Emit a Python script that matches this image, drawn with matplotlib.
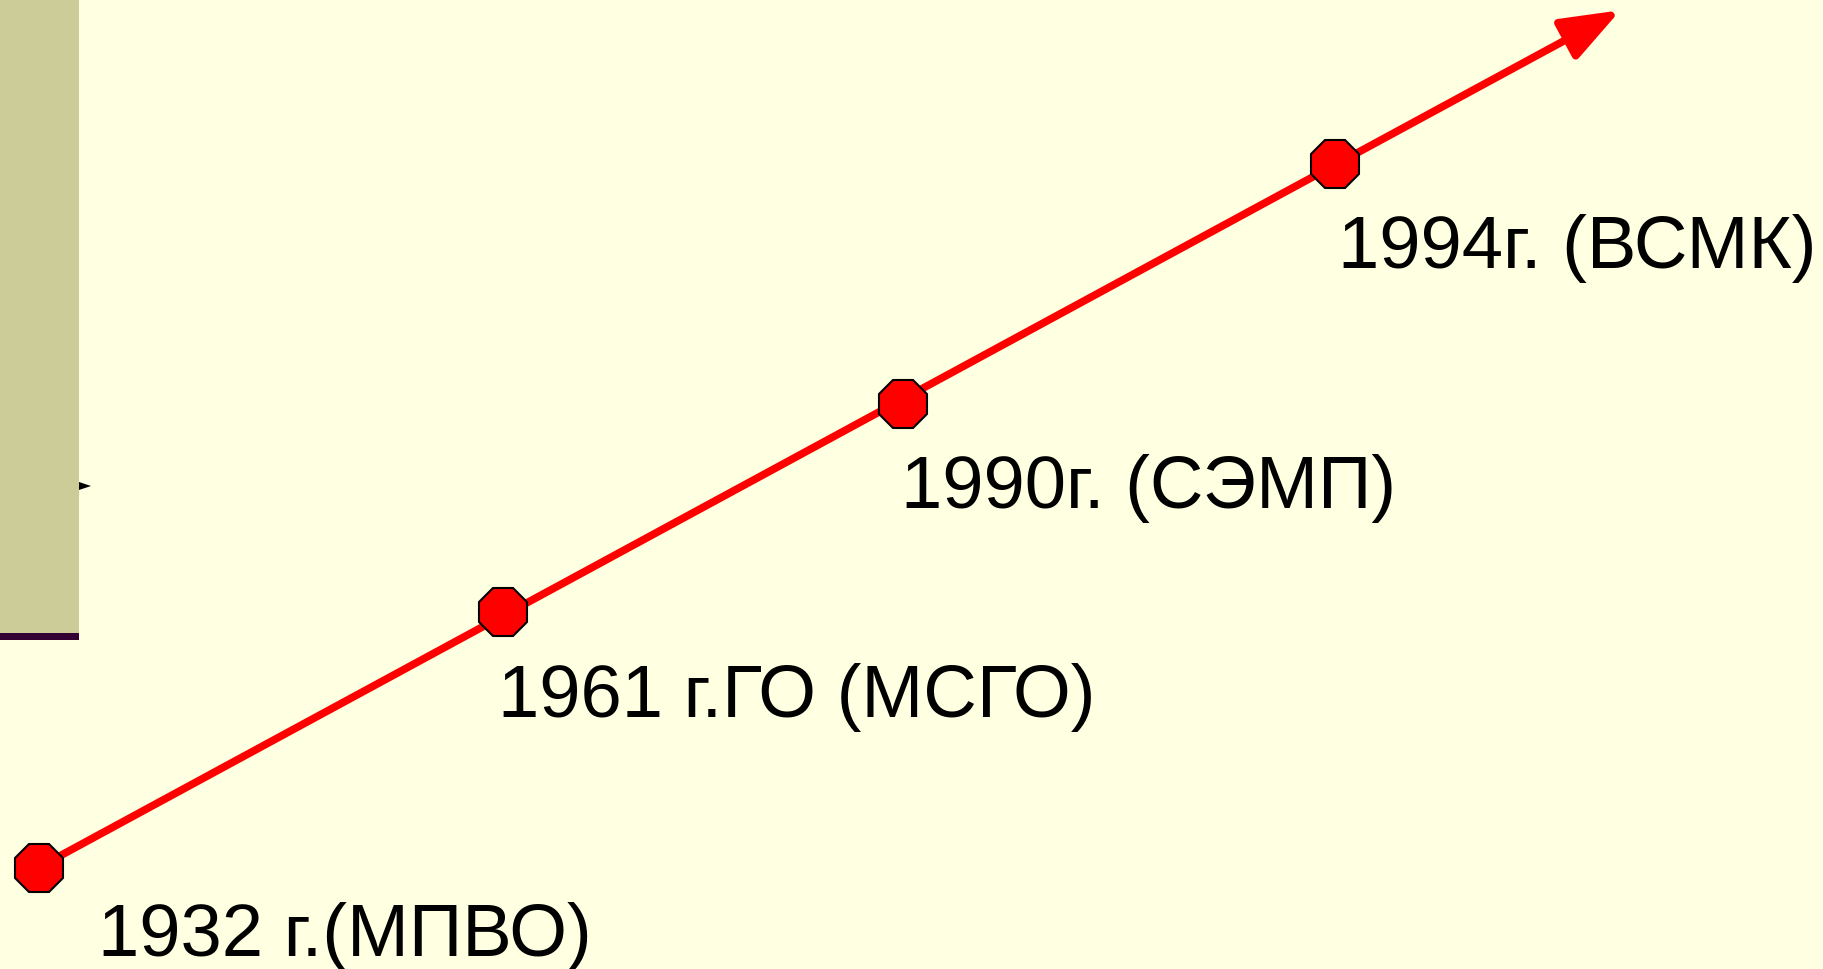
import matplotlib
matplotlib.use("Agg")
import matplotlib.pyplot as plt
from matplotlib.patches import Rectangle, Polygon

#timeline data
years  = [1932, 1961, 1990, 1994]
labels = ["1932 г.(МПВО)", "1961 г.ГО (МСГО)", "1990г. (СЭМП)", "1994г. (ВСМК)"]
pos_x  = [0.0, 0.2948, 0.5487, 0.8229]   #place of each event along the arrow (0 = start, 1 = tip)
pos_y  = [0.0, 0.2987, 0.5418, 0.8223]
lbl_dx = [60, -5, -2, 3]                 #label offsets, pixels
lbl_dy = [-88, -104, -103, -103]

W, H = 1823, 970
BG   = "#FFFFE1"

def drawTimeline():

    fig = plt.figure(figsize=(W/100, H/100), dpi=100, facecolor=BG)

    #decorative bar on the left
    fig.patches.append(Rectangle((0, 1 - 634/H), 79/W, 634/H, transform=fig.transFigure,
                                 facecolor="#CCCC99", edgecolor="none", zorder=0))
    fig.patches.append(Rectangle((0, 1 - 641/H), 79/W, 7/H, transform=fig.transFigure,
                                 facecolor="#330033", edgecolor="none", zorder=0))
    fig.patches.append(Polygon([(79/W, (H-483)/H), (79/W, (H-491)/H), (91/W, (H-487)/H)],
                               closed=True, transform=fig.transFigure,
                               facecolor="black", edgecolor="none"))

    #axes so that (0,0) is the first event and (1,1) the arrow tip
    x0, y0 = 38.5, 868.5
    x1, y1 = 1614, 13
    ax = fig.add_axes([x0/W, (H-y0)/H, (x1-x0)/W, (y0-y1)/H])
    ax.set_xlim(0, 1)
    ax.set_ylim(0, 1)
    ax.axis("off")
    ax.patch.set_alpha(0)

    #head of the arrow gets shortened a bit by the line width, so aim slightly past the tip
    ax.annotate("", xy=(1.004, 1.002), xytext=(0, 0),
                arrowprops=dict(arrowstyle="-|>,head_length=0.4,head_width=0.15",
                                color="red", lw=5.5, mutation_scale=90,
                                shrinkA=0, shrinkB=0),
                annotation_clip=False, zorder=2)

    ax.plot(pos_x, pos_y, linestyle="none", marker="8", markersize=38,
            markerfacecolor="red", markeredgecolor="black", markeredgewidth=1.5,
            clip_on=False, zorder=3)

    for px, py, t, dx, dy in zip(pos_x, pos_y, labels, lbl_dx, lbl_dy):
        ax.annotate(t, xy=(px, py), xytext=(dx, dy), textcoords="offset pixels",
                    fontsize=53.5, family=["Liberation Sans", "DejaVu Sans"],
                    ha="left", va="baseline", color="black", annotation_clip=False)
    #for

    fig.savefig("out.png", dpi=100, facecolor=BG)
#drawTimeline

if __name__=="__main__":
    drawTimeline()
#if
